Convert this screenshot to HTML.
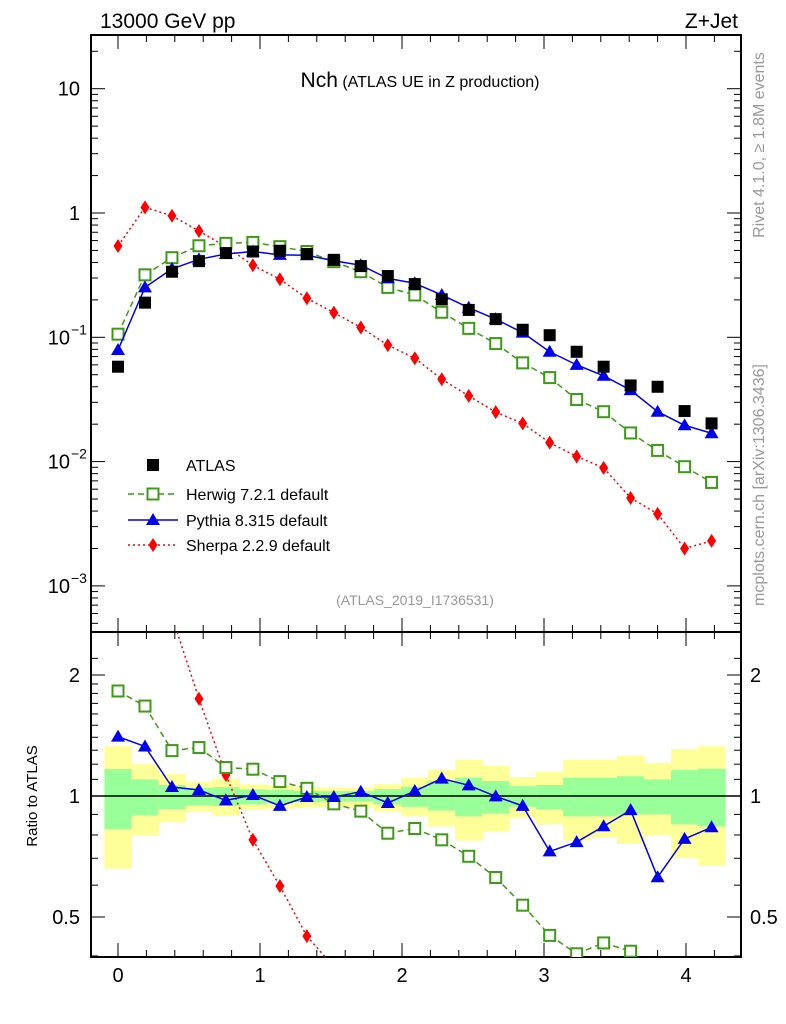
<!DOCTYPE html>
<html><head><meta charset="utf-8"><style>
html,body{margin:0;padding:0;background:#fff;width:786px;height:1024px;overflow:hidden;position:relative;}
svg{font-family:"Liberation Sans",sans-serif;display:block;}
</style></head><body>
<svg id="c" width="786" height="1024" xmlns="http://www.w3.org/2000/svg"></svg>
<script>
const xs = [0,0.19,0.38,0.57,0.76,0.95,1.14,1.33,1.52,1.71,1.9,2.09,2.28,2.47,2.66,2.85,3.04,3.23,3.42,3.61,3.8,3.99,4.18];
const atlas = [0.058,0.19,0.337,0.41,0.476,0.49,0.497,0.468,0.42,0.374,0.311,0.268,0.202,0.166,0.14,0.115,0.104,0.0765,0.058,0.041,0.040,0.0255,0.0203];
const herwig = [0.106,0.318,0.437,0.545,0.57,0.58,0.536,0.49,0.406,0.337,0.252,0.219,0.159,0.118,0.089,0.0623,0.0474,0.0316,0.0252,0.0170,0.0123,0.0091,0.0068];
const pythia = [0.079,0.252,0.355,0.424,0.468,0.49,0.46,0.457,0.413,0.38,0.298,0.272,0.219,0.173,0.14,0.109,0.0765,0.06,0.049,0.0376,0.0252,0.0196,0.0169];
const sherpa = [0.543,1.11,0.95,0.716,0.536,0.38,0.293,0.206,0.158,0.12,0.0866,0.0679,0.046,0.0338,0.025,0.0203,0.0142,0.011,0.0089,0.0051,0.0038,0.002,0.0023];
const herwigR = [1.825,1.674,1.297,1.32,1.177,1.166,1.086,1.045,0.956,0.917,0.808,0.83,0.778,0.708,0.627,0.535,0.45,0.405,0.431,0.411,0.31,0.36,0.33];
const pythiaR = [1.405,1.328,1.053,1.035,0.975,1.006,0.945,0.994,0.994,1.025,0.961,1.029,1.105,1.063,0.998,0.945,0.728,0.768,0.841,0.922,0.628,0.782,0.836];
const sherpaR = [9.4,5.8,2.8,1.745,1.128,0.778,0.597,0.448,0.376,0.32,0.28,0.25,0.23,0.2,0.18,0.18,0.14,0.14,0.15,0.12,0.1,0.08,0.11];
const yelHi = [1.33,1.2,1.133,1.083,1.105,1.069,1.06,1.055,1.05,1.05,1.07,1.11,1.16,1.23,1.19,1.115,1.15,1.23,1.23,1.26,1.21,1.31,1.33];
const yelLo = [0.66,0.795,0.86,0.912,0.894,0.923,0.93,0.935,0.94,0.94,0.915,0.89,0.84,0.775,0.815,0.88,0.85,0.775,0.79,0.76,0.8,0.7,0.67];
const grnHi = [1.168,1.1,1.065,1.048,1.052,1.039,1.035,1.03,1.028,1.028,1.04,1.055,1.09,1.11,1.09,1.058,1.065,1.11,1.11,1.12,1.1,1.16,1.17];
const grnLo = [0.828,0.896,0.928,0.948,0.945,0.953,0.96,0.965,0.97,0.97,0.953,0.94,0.92,0.89,0.905,0.94,0.925,0.89,0.89,0.9,0.9,0.85,0.84];
const xTicks = [0,1,2,3,4];

const S = document.getElementById('c');
const NS = 'http://www.w3.org/2000/svg';
function mk(t, a, p){const e=document.createElementNS(NS,t);for(const k in a)e.setAttribute(k,a[k]);(p||S).appendChild(e);return e;}
const L=91,R=741,T=35,M=632,B=957;
const X = v => 118 + v*142;
const Y = v => 213 - 124.3*Math.log10(v);
const YR = r => 796 - 121*Math.log2(r);
const bw = 27.2;

const defs = mk('defs',{});
const c1 = mk('clipPath',{id:'cm'},defs); mk('rect',{x:L,y:T,width:R-L,height:M-T},c1);
const c2 = mk('clipPath',{id:'cr'},defs); mk('rect',{x:L,y:M,width:R-L,height:B-M},c2);

const gb = mk('g',{'clip-path':'url(#cr)'});


xs.forEach((x,i)=>{
  const y1 = mk('rect',{x:X(x)-bw/2,y:YR(yelHi[i]),width:bw+0.5,height:YR(yelLo[i])-YR(yelHi[i]),fill:'#ffff99'},gb);
  
  
  const g1 = mk('rect',{x:X(x)-bw/2,y:YR(grnHi[i]),width:bw+0.5,height:YR(grnLo[i])-YR(grnHi[i]),fill:'#99ff99'},gb);
  
  
});
mk('line',{x1:L,x2:R,y1:YR(1),y2:YR(1),stroke:'#000','stroke-width':1.5});

mk('rect',{x:L,y:T,width:R-L,height:B-T,fill:'none',stroke:'#000','stroke-width':2});
mk('line',{x1:L,x2:R,y1:M,y2:M,stroke:'#000','stroke-width':2});

for(let v=-0.2; v<=4.4; v+=0.2){
  const x=X(v); if(x<L||x>R) continue;
  const major = Math.abs(v-Math.round(v))<0.01;
  const len = major?14:7;
  [[T,1],[M,-1],[M,1],[B,-1]].forEach(([y,d])=>mk('line',{x1:x,x2:x,y1:y,y2:y+d*len,stroke:'#000','stroke-width':1}));
}
xTicks.forEach(v=>{const t=mk('text',{x:X(v),y:982,'font-size':20,'text-anchor':'middle'});t.textContent=v;

});

for(let e=-4;e<=1;e++){for(let m=1;m<10;m++){const v=m*Math.pow(10,e);const y=Y(v);if(y<T||y>M)continue;
const len=m==1?14:7;
mk('line',{x1:L,x2:L+len,y1:y,y2:y,stroke:'#000'});mk('line',{x1:R,x2:R-len,y1:y,y2:y,stroke:'#000'});}}
const yl=[[10,'10',null],[1,'1',null],[0.1,'10','−1'],[0.01,'10','−2'],[0.001,'10','−3']];
yl.forEach(([v,b,e])=>{const t=mk('text',{x:e?70:80,y:Y(v)+7,'font-size':20,'text-anchor':'end'});t.textContent=b;


if(e){const s=mk('text',{x:71,y:Y(v)-3,'font-size':14});s.textContent=e;}});

[0.4,0.5,0.6,0.7,0.8,0.9,1,1.1,1.2,1.3,1.4,1.5,1.6,1.7,1.8,1.9,2,2.2].forEach(r=>{const y=YR(r);if(y<M||y>B)return;
const len=(r==0.5||r==1||r==2)?14:7;
mk('line',{x1:L,x2:L+len,y1:y,y2:y,stroke:'#000'});mk('line',{x1:R,x2:R-len,y1:y,y2:y,stroke:'#000'});});
[[2,'2'],[1,'1'],[0.5,'0.5']].forEach(([r,s])=>{
 const t=mk('text',{x:80,y:YR(r)+7,'font-size':20,'text-anchor':'end'});t.textContent=s;
 
 
 const t2=mk('text',{x:750,y:YR(r)+7,'font-size':20});t2.textContent=s;
 
 
});

function marker(type,x,y,g){
 if(type=='sq') return mk('rect',{x:x-6,y:y-6,width:12,height:12,fill:'#000'},g);
 if(type=='osq') return mk('rect',{x:x-5.5,y:y-5.5,width:11,height:11,fill:'#fff',stroke:'#3c9a14','stroke-width':2},g);
 if(type=='tri') return mk('polygon',{points:`${x},${y-7} ${x-7},${y+5} ${x+7},${y+5}`,fill:'#0000ee'},g);
 if(type=='dia') return mk('polygon',{points:`${x},${y-7} ${x-4.5},${y} ${x},${y+7} ${x+4.5},${y}`,fill:'#ff0000'},g);
}
// clip a segment to [y0,y1] vertically; returns null if fully outside
function clipSeg(ax,ay,bx,by,y0,y1){
  function cut(px,py,qx,qy,yl){const t=(yl-py)/(qy-py);return [px+t*(qx-px),yl];}
  if((ay<y0&&by<y0)||(ay>y1&&by>y1)) return null;
  let A=[ax,ay],Bp=[bx,by];
  if(A[1]<y0) A=cut(ax,ay,bx,by,y0); else if(A[1]>y1) A=cut(ax,ay,bx,by,y1);
  if(Bp[1]<y0) Bp=cut(ax,ay,bx,by,y0); else if(Bp[1]>y1) Bp=cut(ax,ay,bx,by,y1);
  return [A,Bp];
}
function series(vals,yf,col,dash,type,clip,name,y0,y1){
 const g=mk('g',{'clip-path':clip});
 
 
 if(col){
   let d='';
   for(let i=0;i<vals.length-1;i++){
     const s=clipSeg(X(xs[i]),yf(vals[i]),X(xs[i+1]),yf(vals[i+1]),y0,y1);
     if(s) d+=`M${s[0][0].toFixed(2)},${s[0][1].toFixed(2)}L${s[1][0].toFixed(2)},${s[1][1].toFixed(2)}`;
   }
   mk('path',{d:d,fill:'none',stroke:col,'stroke-width':1.5,'stroke-dasharray':dash||''},g);
 }
 vals.forEach((v,i)=>{const py=yf(v); if(py<y0||py>y1) return;
   const m=marker(type,X(xs[i]),py,g);
   
   });
}
series(sherpa,Y,'#ff0000','2,3','dia','url(#cm)','sherpa-series',T,M);
series(herwig,Y,'#3c9a14','6,4','osq','url(#cm)','herwig-series',T,M);
series(pythia,Y,'#0000ee','','tri','url(#cm)','pythia-series',T,M);
series(atlas,Y,null,'','sq','url(#cm)','atlas-data',T,M);
series(sherpaR,YR,'#ff0000','2,3','dia','url(#cr)','sherpa-ratio',M,B);
series(herwigR,YR,'#3c9a14','6,4','osq','url(#cr)','herwig-ratio',M,B);
series(pythiaR,YR,'#0000ee','','tri','url(#cr)','pythia-ratio',M,B);
</script>
<svg width="786" height="1024" style="position:absolute;left:0;top:0" xmlns="http://www.w3.org/2000/svg" font-family="Liberation Sans, sans-serif">
<text x="100" y="28" font-size="21">13000 GeV pp</text>
<text x="738" y="28" font-size="21" text-anchor="end">Z+Jet</text>
<text x="420" y="87" text-anchor="middle"><tspan font-size="21">Nch</tspan><tspan font-size="16"> (ATLAS UE in Z production)</tspan></text>
<text x="415" y="605" font-size="14" fill="#999" text-anchor="middle">(ATLAS_2019_I1736531)</text>
<text transform="translate(764,145) rotate(-90)" font-size="16" fill="#999" text-anchor="middle">Rivet 4.1.0, ≥ 1.8M events</text>
<text transform="translate(764,485) rotate(-90)" font-size="16" fill="#999" text-anchor="middle">mcplots.cern.ch [arXiv:1306.3436]</text>
<text transform="translate(37,796) rotate(-90)" font-size="15" text-anchor="middle">Ratio to ATLAS</text>
<g font-size="16">
 <rect x="147" y="459" width="12" height="12" fill="#000"/>
 <text x="186" y="471">ATLAS</text>
 <line x1="128" x2="178" y1="494" y2="494" stroke="#3c9a14" stroke-width="1.5" stroke-dasharray="6,4"/>
 <rect x="147.5" y="488.5" width="11" height="11" fill="#fff" stroke="#3c9a14" stroke-width="2"/>
 <text x="186" y="500">Herwig 7.2.1 default</text>
 <line x1="128" x2="178" y1="520" y2="520" stroke="#0000ee" stroke-width="1.5"/>
 <polygon points="153,513 146,525 160,525" fill="#0000ee"/>
 <text x="186" y="526">Pythia 8.315 default</text>
 <line x1="128" x2="178" y1="545" y2="545" stroke="#ff0000" stroke-width="1.5" stroke-dasharray="2,3"/>
 <polygon points="153,538 148.5,545 153,552 157.5,545" fill="#ff0000"/>
 <text x="186" y="551">Sherpa 2.2.9 default</text>
</g>
</svg>
</body></html>
